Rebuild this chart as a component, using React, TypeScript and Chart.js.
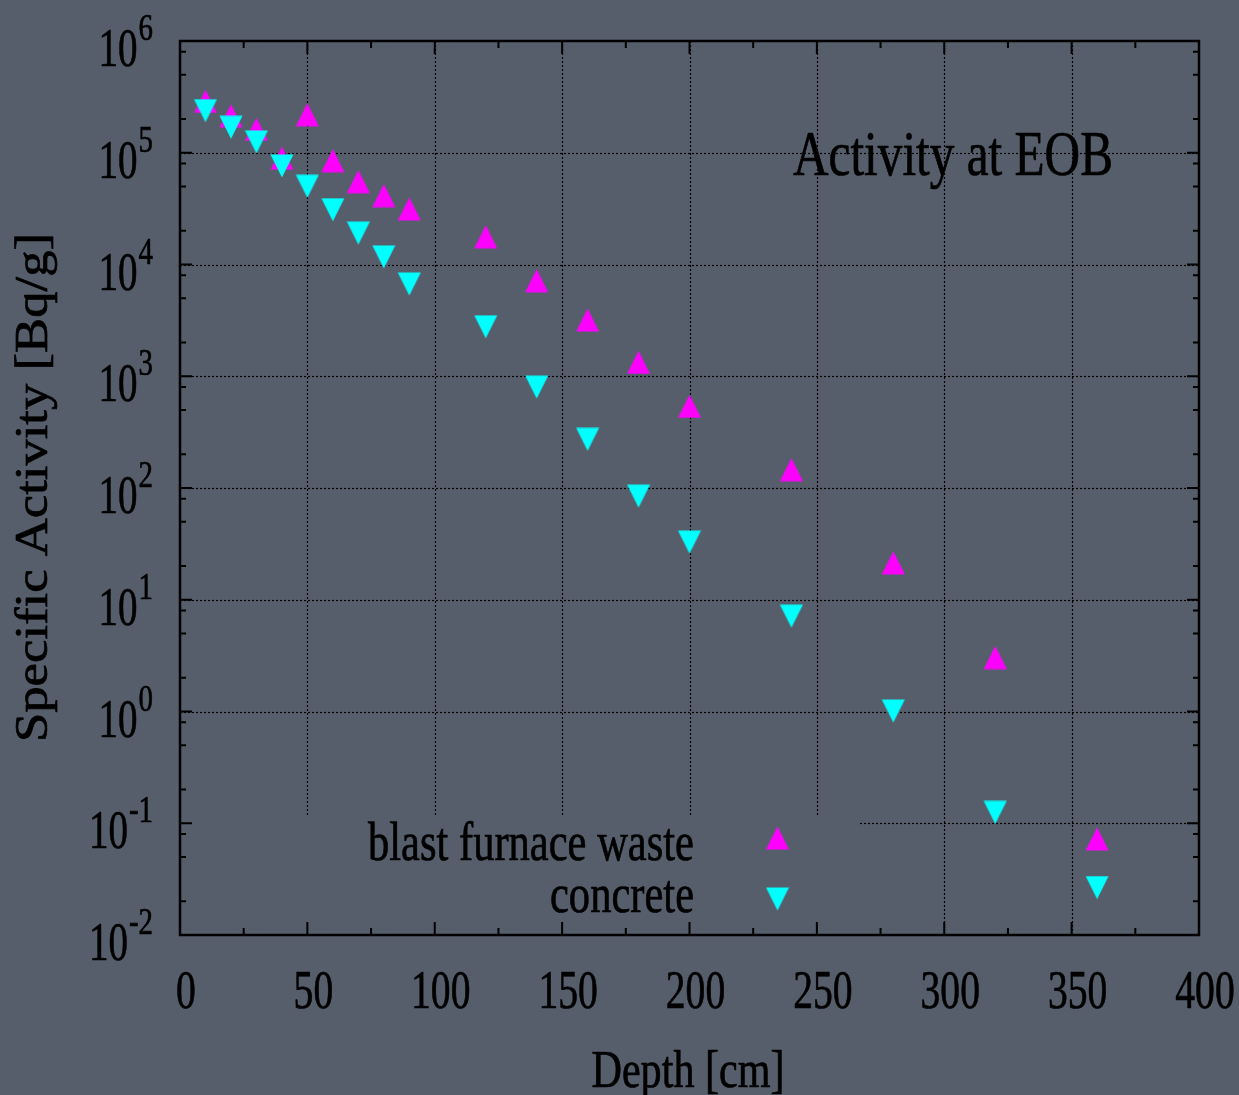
import React, { useEffect, useRef } from "react";
import { Chart, registerables } from "chart.js";

Chart.register(...registerables);

// ---- data ----
const depths = [10, 20, 30, 40, 50, 60, 70, 80, 90, 120, 140, 160, 180, 200, 240, 280, 320, 360];
const blastFurnaceWaste = [
  2.88e5, 2.14e5, 1.62e5, 8.95e4, 2.19e5, 8.5e4, 5.51e4, 4.13e4, 3.14e4, 1.77e4, 7.16e3, 3.18e3,
  1.33e3, 538, 146, 21.4, 3.04, 0.0723,
];
const concrete = [
  2.38e5, 1.69e5, 1.25e5, 7.62e4, 5.01e4, 3.09e4, 1.91e4, 1.17e4, 6.69e3, 2.77e3, 800, 273, 84.6,
  32.8, 7.13, 1.01, 0.125, 0.0266,
];
const xTickValues = [0, 50, 100, 150, 200, 250, 300, 350, 400];
const xMinorTickValues = [25, 75, 125, 175, 225, 275, 325, 375];
const yExponents = [-2, -1, 0, 1, 2, 3, 4, 5, 6];
const yMinorMantissas = [2, 5, 8];
const seriesLabels = ["blast furnace waste", "concrete"];
const seriesColors = ["#ff00ff", "#00ffff"];
const chartTitle = "Activity at EOB";
const xAxisTitle = "Depth [cm]";
const yAxisTitle = "Specific Activity [Bq/g]";

// ---- style ----
const BG = "rgb(87,94,107)";
const FONT = '"Liberation Serif", "Times New Roman", serif';
const LEGEND_BOX = { left: 180, top: 815, right: 860, bottom: 935 };

function makeTriangle(color: string, up: boolean) {
  const c = document.createElement("canvas");
  c.width = 24;
  c.height = 24;
  const g = c.getContext("2d")!;
  g.fillStyle = color;
  g.beginPath();
  if (up) {
    g.moveTo(12, 0.5);
    g.lineTo(23.5, 23.5);
    g.lineTo(0.5, 23.5);
  } else {
    g.moveTo(0.5, 0.5);
    g.lineTo(23.5, 0.5);
    g.lineTo(12, 23.5);
  }
  g.closePath();
  g.fill();
  return c;
}

function paintText(ctx: CanvasRenderingContext2D, text: string) {
  ctx.fillStyle = "#000";
  ctx.strokeStyle = "#000";
  ctx.lineWidth = 0.7;
  ctx.lineJoin = "round";
  ctx.fillText(text, 0, 0);
  ctx.strokeText(text, 0, 0);
}

function textFit(
  ctx: CanvasRenderingContext2D,
  text: string,
  x: number,
  y: number,
  size: number,
  width: number,
  align: CanvasTextAlign,
  rotate = false
) {
  ctx.save();
  ctx.font = `${size}px ${FONT}`;
  const w = ctx.measureText(text).width;
  ctx.translate(x, y);
  if (rotate) ctx.rotate(-Math.PI / 2);
  ctx.scale(width / w, 1);
  ctx.textAlign = align;
  ctx.textBaseline = "alphabetic";
  paintText(ctx, text);
  ctx.restore();
}

function textScaled(
  ctx: CanvasRenderingContext2D,
  text: string,
  x: number,
  y: number,
  size: number,
  sx: number,
  align: CanvasTextAlign
) {
  ctx.save();
  ctx.font = `${size}px ${FONT}`;
  ctx.translate(x, y);
  ctx.scale(sx, 1);
  ctx.textAlign = align;
  ctx.textBaseline = "alphabetic";
  paintText(ctx, text);
  const w = ctx.measureText(text).width * sx;
  ctx.restore();
  return w;
}

export default function App() {
  const ref = useRef<HTMLCanvasElement>(null);

  useEffect(() => {
    document.body.style.background = BG;
    const markers = [makeTriangle(seriesColors[0], true), makeTriangle(seriesColors[1], false)];

    const bgPlugin = {
      id: "bg",
      beforeDraw(chart: any) {
        const ctx = chart.ctx;
        ctx.save();
        ctx.fillStyle = BG;
        ctx.fillRect(0, 0, chart.width, chart.height);
        ctx.restore();
      },
    };

    const gridPlugin = {
      id: "gnugrid",
      beforeDatasetsDraw(chart: any) {
        const { ctx, chartArea: a, scales } = chart;
        const xs = scales.x;
        const ys = scales.y;
        ctx.save();
        ctx.beginPath();
        ctx.rect(a.left, a.top, a.right - a.left, a.bottom - a.top);
        ctx.rect(
          LEGEND_BOX.left,
          LEGEND_BOX.top,
          LEGEND_BOX.right - LEGEND_BOX.left,
          LEGEND_BOX.bottom - LEGEND_BOX.top
        );
        ctx.clip("evenodd");
        ctx.strokeStyle = "#000";
        ctx.lineWidth = 1.2;
        ctx.setLineDash([2, 2]);
        xTickValues.slice(1, -1).forEach((v) => {
          const px = Math.round(xs.getPixelForValue(v)) + 0.5;
          ctx.beginPath();
          ctx.moveTo(px, a.top);
          ctx.lineTo(px, a.bottom);
          ctx.stroke();
        });
        yExponents.slice(1, -1).forEach((e) => {
          const py = Math.round(ys.getPixelForValue(Math.pow(10, e))) + 0.5;
          ctx.beginPath();
          ctx.moveTo(a.left, py);
          ctx.lineTo(a.right, py);
          ctx.stroke();
        });
        ctx.restore();
      },
      afterDatasetsDraw(chart: any) {
        const { ctx, chartArea: a, scales } = chart;
        const xs = scales.x;
        const ys = scales.y;
        ctx.save();
        // ticks
        ctx.strokeStyle = "#000";
        ctx.lineWidth = 2;
        const vTick = (v: number, len: number) => {
          const px = xs.getPixelForValue(v);
          ctx.beginPath();
          ctx.moveTo(px, a.bottom);
          ctx.lineTo(px, a.bottom - len);
          ctx.moveTo(px, a.top);
          ctx.lineTo(px, a.top + len);
          ctx.stroke();
        };
        const hTick = (v: number, len: number) => {
          const py = ys.getPixelForValue(v);
          ctx.beginPath();
          ctx.moveTo(a.left, py);
          ctx.lineTo(a.left + len, py);
          ctx.moveTo(a.right, py);
          ctx.lineTo(a.right - len, py);
          ctx.stroke();
        };
        xTickValues.forEach((v) => vTick(v, 13));
        xMinorTickValues.forEach((v) => vTick(v, 7));
        yExponents.forEach((e) => hTick(Math.pow(10, e), 12));
        yExponents.slice(0, -1).forEach((e) =>
          yMinorMantissas.forEach((m) => hTick(m * Math.pow(10, e), 6))
        );
        // frame
        ctx.lineWidth = 2.5;
        ctx.strokeRect(a.left, a.top, a.right - a.left, a.bottom - a.top);
        ctx.restore();

        // x tick labels
        xTickValues.forEach((v) => {
          textScaled(ctx, String(v), xs.getPixelForValue(v) + 6, 1007.5, 55, 0.72, "center");
        });
        // y tick labels: 10^n
        yExponents.forEach((e) => {
          const py = ys.getPixelForValue(Math.pow(10, e));
          const sw = textScaled(ctx, String(e), 153, py - 1, 38, 0.76, "right");
          textScaled(ctx, "10", 153 - sw - 1, py + 25, 55, 0.71, "right");
        });

        // titles
        textFit(ctx, xAxisTitle, 688, 1086.5, 52, 193, "center");
        textFit(ctx, yAxisTitle, 47, 487.5, 46, 509, "center", true);
        textFit(ctx, chartTitle, 793, 175, 64, 320, "left");

        // legend
        const legendRows = [
          { text: seriesLabels[0], base: 860, width: 326, my: 838 },
          { text: seriesLabels[1], base: 911.5, width: 144, my: 899 },
        ];
        legendRows.forEach((r, i) => {
          textFit(ctx, r.text, 694, r.base, 54, r.width, "right");
          const m = markers[i];
          ctx.drawImage(m, 777.5 - m.width / 2, r.my - m.height / 2);
        });
      },
    };

    const chart = new Chart(ref.current!, {
      type: "scatter",
      data: {
        datasets: [
          {
            label: seriesLabels[0],
            data: depths.map((d, i) => ({ x: d, y: blastFurnaceWaste[i] })),
            pointStyle: markers[0] as any,
            pointRadius: 12,
            backgroundColor: seriesColors[0],
            borderColor: seriesColors[0],
            showLine: false,
            order: 2,
          },
          {
            label: seriesLabels[1],
            data: depths.map((d, i) => ({ x: d, y: concrete[i] })),
            pointStyle: markers[1] as any,
            pointRadius: 12,
            backgroundColor: seriesColors[1],
            borderColor: seriesColors[1],
            showLine: false,
            order: 1,
          },
        ],
      },
      options: {
        animation: false,
        responsive: false,
        devicePixelRatio: 1,
        layout: { padding: { left: 180, top: 41, right: 40, bottom: 160 } },
        plugins: { legend: { display: false }, title: { display: false }, tooltip: { enabled: false } },
        events: [],
        scales: {
          x: { type: "linear", min: 0, max: 400, display: false },
          y: { type: "logarithmic", min: 0.01, max: 1e6, display: false },
        },
      },
      plugins: [bgPlugin, gridPlugin],
    });
    return () => chart.destroy();
  }, []);

  return (
    <div style={{ position: "fixed", left: 0, top: 0, width: 1239, height: 1095, background: BG }}>
      <canvas ref={ref} width={1239} height={1095} style={{ display: "block", width: 1239, height: 1095 }} />
    </div>
  );
}
